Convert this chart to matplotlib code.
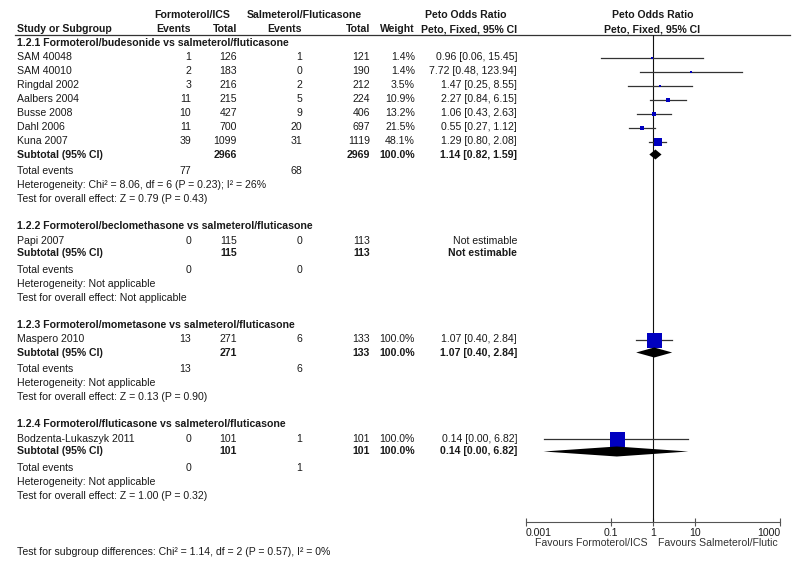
import numpy as np
import matplotlib.pyplot as plt

plt.rcParams['font.family'] = ['Liberation Sans', 'DejaVu Sans']

# data
group_titles = ['1.2.1 Formoterol/budesonide vs salmeterol/fluticasone',
                '1.2.2 Formoterol/beclomethasone vs salmeterol/fluticasone',
                '1.2.3 Formoterol/mometasone vs salmeterol/fluticasone',
                '1.2.4 Formoterol/fluticasone vs salmeterol/fluticasone']
study_names = [['SAM 40048', 'SAM 40010', 'Ringdal 2002', 'Aalbers 2004',
                'Busse 2008', 'Dahl 2006', 'Kuna 2007'],
               ['Papi 2007'], ['Maspero 2010'], ['Bodzenta-Lukaszyk 2011']]
form_events = [[1, 2, 3, 11, 10, 11, 39], [0], [13], [0]]
form_totals = [[126, 183, 216, 215, 427, 700, 1099], [115], [271], [101]]
salm_events = [[1, 0, 2, 5, 9, 20, 31], [0], [6], [1]]
salm_totals = [[121, 190, 212, 224, 406, 697, 1119], [113], [133], [101]]
weights = [[1.4, 1.4, 3.5, 10.9, 13.2, 21.5, 48.1], [None], [100.0], [100.0]]
peto_or = [[0.96, 7.72, 1.47, 2.27, 1.06, 0.55, 1.29], [None], [1.07], [0.14]]
ci_low = [[0.06, 0.48, 0.25, 0.84, 0.43, 0.27, 0.80], [None], [0.40], [0.0026]]
ci_high = [[15.45, 123.94, 8.55, 6.15, 2.63, 1.12, 2.08], [None], [2.84], [6.82]]
sub_or = [1.14, None, 1.07, 0.14]
sub_low = [0.82, None, 0.40, 0.0026]
sub_high = [1.59, None, 2.84, 6.82]
sub_weight = [100.0, None, 100.0, 100.0]
tot_form = [77, 0, 13, 0]
tot_salm = [68, 0, 6, 1]
heterogeneity = ['Heterogeneity: Chi\u00b2 = 8.06, df = 6 (P = 0.23); I\u00b2 = 26%',
                 'Heterogeneity: Not applicable',
                 'Heterogeneity: Not applicable',
                 'Heterogeneity: Not applicable']
overall = ['Test for overall effect: Z = 0.79 (P = 0.43)',
           'Test for overall effect: Not applicable',
           'Test for overall effect: Z = 0.13 (P = 0.90)',
           'Test for overall effect: Z = 1.00 (P = 0.32)']
axis_ticks = [0.001, 0.1, 1, 10, 1000]
axis_labels = ['0.001', '0.1', '1', '10', '1000']
subgroup_test = 'Test for subgroup differences: Chi\u00b2 = 1.14, df = 2 (P = 0.57), I\u00b2 = 0%'

W, H = 800, 568
TXT = '#1a1a1a'
FS = 7.6
BLUE = '#0000c0'

fig = plt.figure(figsize=(W / 100, H / 100), dpi=100)
tx = fig.add_axes([0, 0, 1, 1])
tx.set_xlim(0, W)
tx.set_ylim(H, 0)
tx.axis('off')

# forest panel: x from 0.001..1000 spans px 526..780, rows 35..522
ax_l, ax_r, ax_t, ax_b = 526, 780, 35, 522
fx = fig.add_axes([ax_l / W, (H - ax_b) / H, (ax_r - ax_l) / W, (ax_b - ax_t) / H])
fx.set_xscale('log')
fx.set_xlim(1e-3, 1e3)
fx.set_ylim(ax_b, ax_t)
fx.patch.set_alpha(0)
for s in ['top', 'left', 'right']:
    fx.spines[s].set_visible(False)
fx.spines['bottom'].set_color('#555555')
fx.set_yticks([])
fx.set_xticks(axis_ticks)
fx.set_xticklabels(axis_labels)
fx.minorticks_off()
fx.tick_params(axis='x', direction='inout', length=6, width=0.8, color='#555555',
               labelsize=FS, labelcolor=TXT, pad=1)
labs = fx.get_xticklabels()
labs[0].set_ha('left')
labs[-1].set_ha('right')
fx.axvline(1, color='#111111', lw=0.8)


def t(x, y, s, ha='left', bold=False, color=TXT):
    tx.text(x, y, s, ha=ha, va='center', fontsize=FS, color=color,
            fontweight='bold' if bold else 'normal')


# column headers
col_fe, col_ft, col_se, col_st, col_w, col_ci = 191, 237, 302, 370, 415, 517
t(192, 15, 'Formoterol/ICS', ha='center', bold=True)
t(304.5, 15, 'Salmeterol/Fluticasone', ha='center', bold=True)
t(465.5, 15, 'Peto Odds Ratio', ha='center', bold=True)
t(652.5, 15, 'Peto Odds Ratio', ha='center', bold=True)
t(17, 29, 'Study or Subgroup', bold=True)
t(col_fe, 29, 'Events', ha='right', bold=True)
t(col_ft, 29, 'Total', ha='right', bold=True)
t(col_se, 29, 'Events', ha='right', bold=True)
t(col_st, 29, 'Total', ha='right', bold=True)
t(col_w, 29, 'Weight', ha='right', bold=True)
t(col_ci, 29, 'Peto, Fixed, 95% CI', ha='right', bold=True)
t(652.5, 29, 'Peto, Fixed, 95% CI', ha='center', bold=True)
tx.plot([15, 790], [35, 35], color='#333333', lw=0.9)

y = 43
for g in range(len(group_titles)):
    t(17, y, group_titles[g], bold=True)
    y += 14.5
    for i, name in enumerate(study_names[g]):
        t(17, y, name)
        t(col_fe, y, str(form_events[g][i]), ha='right')
        t(col_ft, y, str(form_totals[g][i]), ha='right')
        t(col_se, y, str(salm_events[g][i]), ha='right')
        t(col_st, y, str(salm_totals[g][i]), ha='right')
        w = weights[g][i]
        if w is None:
            t(col_ci, y, 'Not estimable', ha='right')
        else:
            t(col_w, y, f'{w:.1f}%', ha='right')
            o, lo, hi = peto_or[g][i], ci_low[g][i], ci_high[g][i]
            t(col_ci, y, f'{o:.2f} [{lo:.2f}, {hi:.2f}]', ha='right')
            fx.plot([lo, hi], [y, y], color='#333333', lw=0.9, clip_on=False, zorder=2)
            side = 2 + 13 * w / 100
            fx.plot([o], [y], marker='s', ms=side * 0.72, color=BLUE, mec=BLUE,
                    mew=0, clip_on=False, zorder=3)
        y += 14
    y -= 1
    t(17, y, 'Subtotal (95% CI)', bold=True)
    t(col_ft, y, str(sum(form_totals[g])), ha='right', bold=True)
    t(col_st, y, str(sum(salm_totals[g])), ha='right', bold=True)
    if sub_or[g] is None:
        t(col_ci, y, 'Not estimable', ha='right', bold=True)
    else:
        t(col_w, y, f'{sub_weight[g]:.1f}%', ha='right', bold=True)
        o, lo, hi = sub_or[g], sub_low[g], sub_high[g]
        t(col_ci, y, f'{o:.2f} [{lo:.2f}, {hi:.2f}]', ha='right', bold=True)
        fx.fill([lo, o, hi, o], [y, y - 5, y, y + 5], color='black', lw=0,
                clip_on=False, zorder=4)
    y += 16.5
    t(17, y, 'Total events')
    t(col_fe, y, str(tot_form[g]), ha='right')
    t(col_se, y, str(tot_salm[g]), ha='right')
    y += 14
    t(17, y, heterogeneity[g])
    y += 14
    t(17, y, overall[g])
    y += 27

t(648, 543, 'Favours Formoterol/ICS', ha='right', color='#333333')
t(658, 543, 'Favours Salmeterol/Flutic', color='#333333')
t(17, 552, subgroup_test)

fig.savefig('out.png', dpi=100)
